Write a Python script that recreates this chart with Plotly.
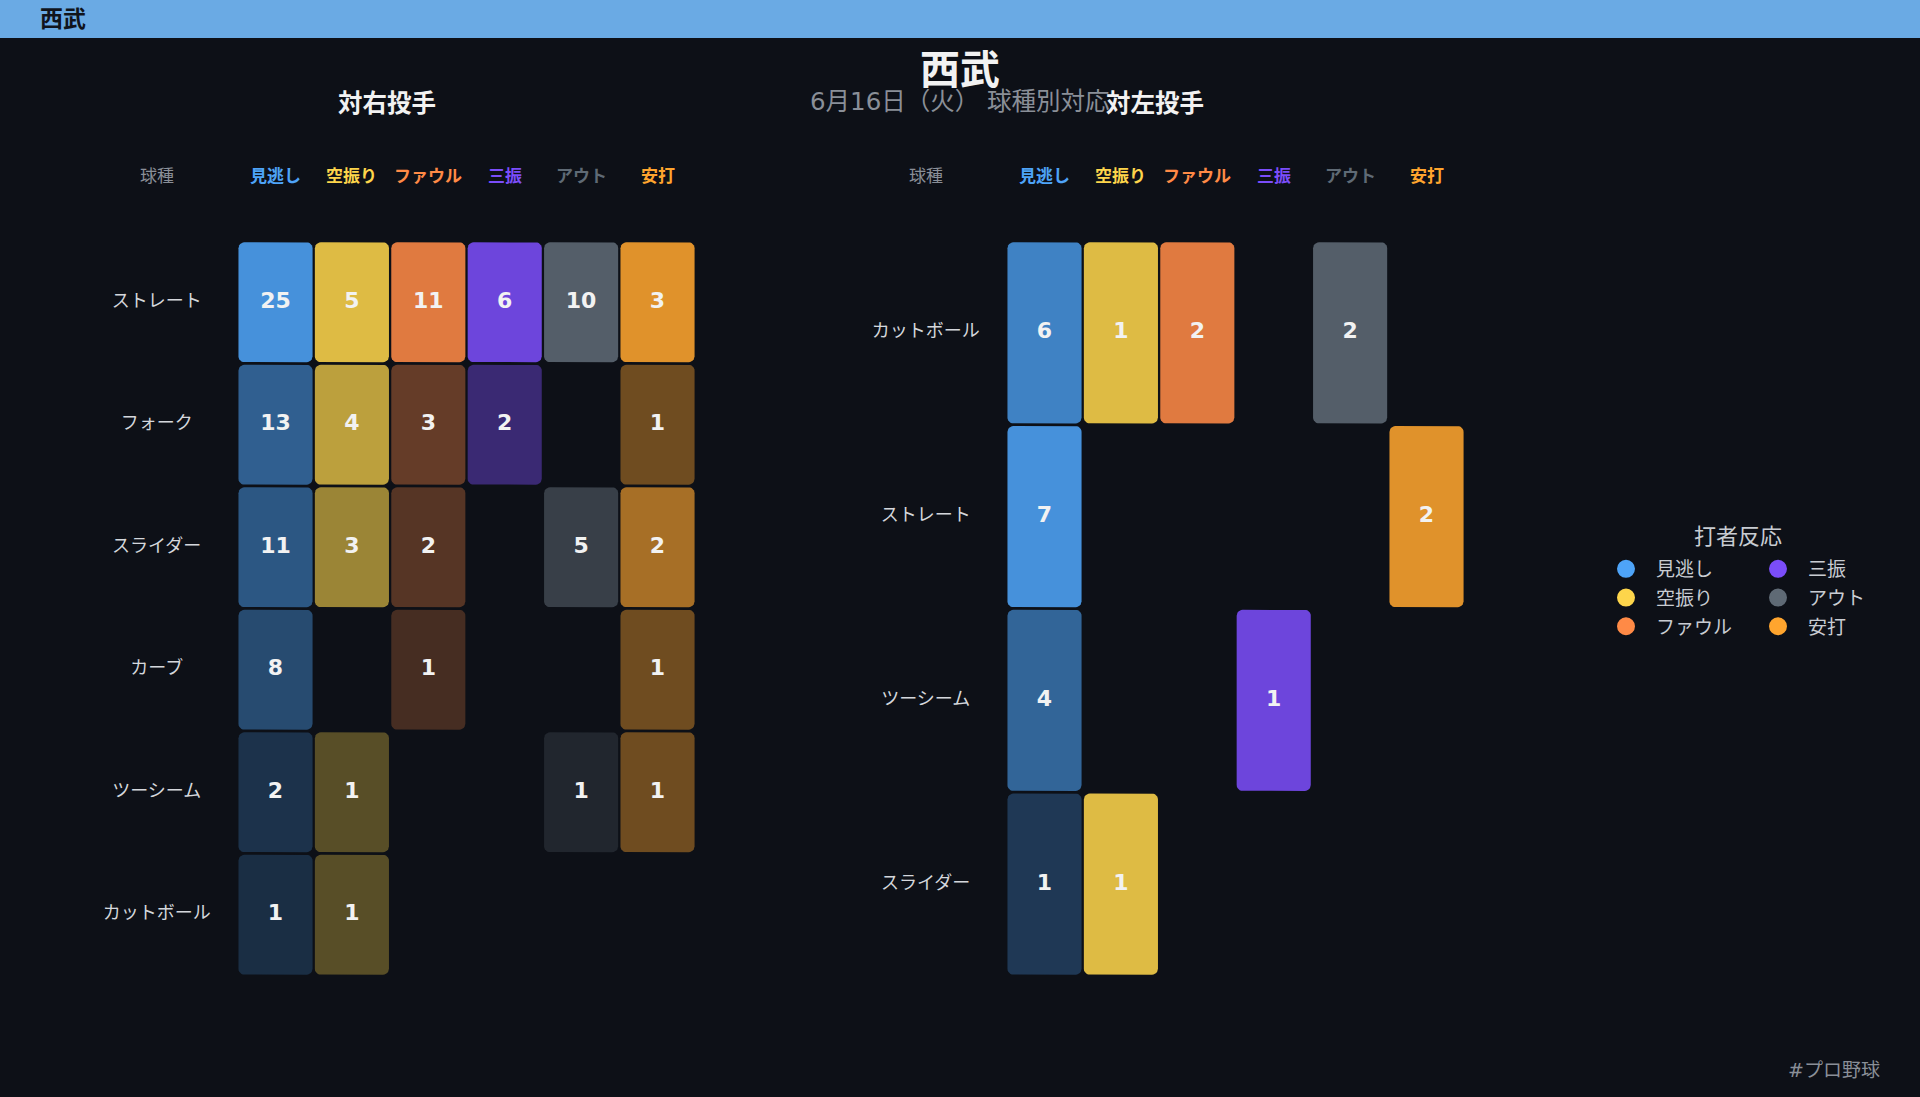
import math
import plotly.graph_objects as go

# ---------------- data ----------------
team = "西武"
subtitle = "6月16日（火） 球種別対応"
results = ["見逃し", "空振り", "ファウル", "三振", "アウト", "安打"]
result_colors = ["#4ea4f8", "#fdd54b", "#ff8a46", "#7b4dfa", "#5f6a75", "#ffa52e"]
legend_title = "打者反応"
hashtag = "#プロ野球"

pitches_vs_right = ["ストレート", "フォーク", "スライダー", "カーブ", "ツーシーム", "カットボール"]
miss_R   = [25, 13, 11, 8, 2, 1]
swing_R  = [5, 4, 3, None, 1, 1]
foul_R   = [11, 3, 2, 1, None, None]
so_R     = [6, 2, None, None, None, None]
out_R    = [10, None, 5, None, 1, None]
hit_R    = [3, 1, 2, 1, 1, None]

pitches_vs_left = ["カットボール", "ストレート", "ツーシーム", "スライダー"]
miss_L   = [6, 7, 4, 1]
swing_L  = [1, None, None, 1]
foul_L   = [2, None, None, None]
so_L     = [None, None, 1, None]
out_L    = [2, None, None, None]
hit_L    = [None, 2, None, None]

# ---------------- style ----------------
BG = "#0d1017"
W, H = 1920, 1097
FONT = "DejaVu Sans, Noto Sans CJK JP, sans-serif"


def hex2rgb(h):
    h = h.lstrip("#")
    return tuple(int(h[i:i + 2], 16) for i in (0, 2, 4))


def blend(c, a):
    cr = hex2rgb(c)
    br = hex2rgb(BG)
    return "rgb(%d,%d,%d)" % tuple(round(br[i] + (cr[i] - br[i]) * a) for i in range(3))


def rounded_rect(cx, cy, hw, hh, rx, ry, n=6):
    """Closed outline of a rounded rectangle around a cell centre (data units)."""
    px, py = [], []
    corners = [(cx + hw - rx, cy + hh - ry, 0), (cx - hw + rx, cy + hh - ry, 90),
               (cx - hw + rx, cy - hh + ry, 180), (cx + hw - rx, cy - hh + ry, 270)]
    for ox, oy, a0 in corners:
        for k in range(n + 1):
            a = math.radians(a0 + 90 * k / n)
            px.append(ox + rx * math.cos(a))
            py.append(oy + ry * math.sin(a))
    px.append(px[0])
    py.append(py[0])
    return px, py


fig = go.Figure()

LABEL_X = -1.555
XR = [-2.559, 5.556]
X_UNIT_PX = 620 / (XR[1] - XR[0])
y_top_px, y_bot_px = 241, 976
panels = [
    dict(pitches=pitches_vs_right, cols=[miss_R, swing_R, foul_R, so_R, out_R, hit_R],
         xa="x", ya="y", dom=[80 / W, 700 / W], title="対右投手", tx=387),
    dict(pitches=pitches_vs_left, cols=[miss_L, swing_L, foul_L, so_L, out_L, hit_L],
         xa="x2", ya="y2", dom=[849 / W, 1469 / W], title="対左投手", tx=1155),
]

annotations = []
HW = 0.485
R_PX = 6
for p in panels:
    n_rows = len(p["pitches"])
    row_px = (y_bot_px - y_top_px) / n_rows
    HHc = 0.5 - 1.3 / row_px
    xs, ys, texts = [], [], []
    for ci, col in enumerate(p["cols"]):
        vals = [v for v in col if v is not None]
        mx = max(vals) if vals else 1
        for ri, v in enumerate(col):
            if v is None:
                continue
            xs.append(ci)
            ys.append(ri)
            texts.append(str(v))
            color = blend(result_colors[ci], 0.87 * (0.2 + 0.8 * v / mx))
            px, py = rounded_rect(ci, ri, HW, HHc, R_PX / X_UNIT_PX, R_PX / row_px)
            fig.add_trace(go.Scatter(x=px, y=py, mode="lines", fill="toself", fillcolor=color,
                                     line=dict(width=0, color=color),
                                     xaxis=p["xa"], yaxis=p["ya"], showlegend=False,
                                     hoverinfo="skip"))
    fig.add_trace(go.Scatter(x=xs, y=ys, text=texts, mode="text",
                             textfont=dict(size=22, color="#f2f2f2", family=FONT, weight="bold"),
                             xaxis=p["xa"], yaxis=p["ya"], showlegend=False, hoverinfo="skip"))
    fig.add_trace(go.Scatter(x=[LABEL_X] * n_rows, y=list(range(n_rows)),
                             text=p["pitches"], mode="text",
                             textfont=dict(size=18, color="#d4d7dc", family=FONT),
                             xaxis=p["xa"], yaxis=p["ya"], showlegend=False, hoverinfo="skip"))
    # headers
    hy = 1 - 176 / H
    annotations.append(dict(x=LABEL_X, y=hy, xref=p["xa"], yref="paper", text="球種", showarrow=False,
                            xanchor="center", yanchor="middle",
                            font=dict(size=17, color="#8a8f98", family=FONT)))
    for ci, r in enumerate(results):
        annotations.append(dict(x=ci, y=hy, xref=p["xa"], yref="paper", text="<b>%s</b>" % r,
                                showarrow=False, xanchor="center", yanchor="middle",
                                font=dict(size=17, color=result_colors[ci], family=FONT)))
    annotations.append(dict(x=p["tx"] / W, y=1 - 103 / H, xref="paper", yref="paper",
                            xanchor="center", yanchor="middle",
                            text="<b>%s</b>" % p["title"], showarrow=False,
                            font=dict(size=24.5, color="#f2f2f2", family=FONT)))

# legend entries: two columns as two legends
legend_cols = [["見逃し", "空振り", "ファウル"], ["三振", "アウト", "安打"]]
for li, names in enumerate(legend_cols):
    for name in names:
        c = result_colors[results.index(name)]
        fig.add_trace(go.Scatter(x=[None], y=[None], mode="markers", name=name,
                                 legend="legend" if li == 0 else "legend2",
                                 legendgroup=name,
                                 marker=dict(size=16, color=c, line=dict(width=2, color=c)),
                                 showlegend=True))

# titles
annotations.append(dict(x=0.5, y=1 - 70 / H, xref="paper", yref="paper", text="<b>%s</b>" % team,
                        xanchor="center", yanchor="middle",
                        showarrow=False, font=dict(size=40, color="#f2f2f2", family=FONT)))
annotations.append(dict(x=0.5, y=1 - 101 / H, xref="paper", yref="paper", text=subtitle,
                        xanchor="center", yanchor="middle",
                        showarrow=False, font=dict(size=24.5, color="#8a8f98", family=FONT)))
annotations.append(dict(x=38 / W, y=1 - 19 / H, xref="paper", yref="paper", xanchor="left",
                        yanchor="middle", text="<b>%s</b>" % team, showarrow=False,
                        font=dict(size=23, color="#10141c", family=FONT)))
annotations.append(dict(x=1882 / W, y=1 - 1070 / H, xref="paper", yref="paper", xanchor="right",
                        yanchor="middle", text=hashtag, showarrow=False,
                        font=dict(size=19, color="#8a8f98", family=FONT)))
annotations.append(dict(x=1738 / W, y=1 - 537 / H, xref="paper", yref="paper", xanchor="center",
                        yanchor="middle", text=legend_title, showarrow=False,
                        font=dict(size=22, color="#c8ccd2", family=FONT)))

ydom = [1 - y_bot_px / H, 1 - y_top_px / H]
axis_common = dict(showgrid=False, zeroline=False, showticklabels=False, showline=False,
                   ticks="", fixedrange=True)
legend_common = dict(orientation="v", xanchor="left", yanchor="top", bgcolor="rgba(0,0,0,0)",
                     tracegroupgap=1, itemwidth=50,
                     font=dict(size=19, color="#c8ccd2", family=FONT))
fig.update_layout(
    width=W, height=H,
    margin=dict(l=0, r=0, t=0, b=0),
    paper_bgcolor=BG, plot_bgcolor=BG,
    font=dict(family=FONT, color="#d4d7dc"),
    xaxis=dict(domain=panels[0]["dom"], range=XR, anchor="y", **axis_common),
    yaxis=dict(domain=ydom, range=[len(pitches_vs_right) - 0.5, -0.5], anchor="x", **axis_common),
    xaxis2=dict(domain=panels[1]["dom"], range=XR, anchor="y2", **axis_common),
    yaxis2=dict(domain=ydom, range=[len(pitches_vs_left) - 0.5, -0.5], anchor="x2", **axis_common),
    annotations=annotations,
    shapes=[dict(type="rect", xref="paper", yref="paper", x0=0, x1=1, y0=1 - 38 / H, y1=1,
                 fillcolor="#6aaae4", line=dict(width=0), layer="below")],
    legend=dict(x=(1626 - 30) / W, y=1 - 550 / H, **legend_common),
    legend2=dict(x=(1778 - 30) / W, y=1 - 550 / H, **legend_common),
    hovermode=False,
)

fig.write_html("out.html")
